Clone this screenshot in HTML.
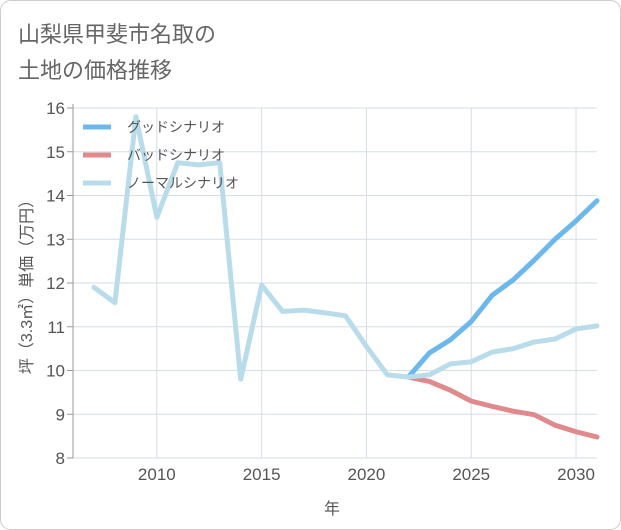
<!DOCTYPE html>
<html><head><meta charset="utf-8"><style>
body{margin:0;background:#fff}
svg{display:block;font-family:"Liberation Sans","Noto Sans CJK JP",sans-serif}
</style></head><body>
<svg width="621" height="530" viewBox="0 0 621 530" id="c">
<rect x="0.5" y="0.5" width="620" height="529" rx="10" fill="#fff" stroke="#ccc"/>
<text x="18" y="42" font-size="22" fill="#666">山梨県甲斐市名取の</text>
<text x="18" y="78" font-size="22" fill="#666">土地の価格推移</text>
<g id="grid"></g>
<g id="series"></g>
<g id="legend"></g>
<text x="332" y="514" font-size="16" fill="#555" text-anchor="middle">年</text>
<text transform="translate(32,283) rotate(-90)" font-size="16" fill="#555" text-anchor="middle">坪（3.3㎡）単価（万円）</text>
</svg>
<script>
const years=[2007,2008,2009,2010,2011,2012,2013,2014,2015,2016,2017,2018,2019,2020,2021,2022,2023,2024,2025,2026,2027,2028,2029,2030,2031];
const normal=[11.9,11.55,15.8,13.5,14.75,14.7,14.75,9.8,11.95,11.35,11.38,11.32,11.25,10.55,9.9,9.85,9.9,10.15,10.2,10.42,10.5,10.65,10.72,10.95,11.02];
const goodYears=[2022,2023,2024,2025,2026,2027,2028,2029,2030,2031];
const good=[9.85,10.4,10.7,11.12,11.72,12.07,12.52,13.0,13.42,13.88];
const bad=[9.85,9.75,9.55,9.3,9.18,9.07,8.99,8.75,8.6,8.48];
const yTicks=[8,9,10,11,12,13,14,15,16];
const xTicks=[2010,2015,2020,2025,2030];
const legendLabels=["グッドシナリオ","バッドシナリオ","ノーマルシナリオ"];
const colors=["#6cb8ec","#e08a8e","#b9dceb"];
const NS="http://www.w3.org/2000/svg";
const X0=73,X1=597,Y0=108,Y1=458;
const x=v=>X0+(v-2006)*(X1-X0)/25;
const y=v=>Y1-(v-8)*(Y1-Y0)/8;
function mk(t,a,p){const e=document.createElementNS(NS,t);for(const k in a)e.setAttribute(k,a[k]);p.appendChild(e);return e;}
const g=document.getElementById('grid');
yTicks.forEach(v=>{const l=mk('line',{x1:X0,x2:X1,y1:y(v),y2:y(v),stroke:'#d5dde6'},g);


const tk=mk('line',{x1:X0-6,x2:X0,y1:y(v),y2:y(v),stroke:'#999'},g);


const t=mk('text',{x:X0-8,y:y(v)+6,'font-size':17,fill:'#555','text-anchor':'end'},g);t.textContent=v;

});
xTicks.forEach(v=>{const l=mk('line',{x1:x(v),x2:x(v),y1:Y0,y2:Y1,stroke:'#d5dde6'},g);


const t=mk('text',{x:x(v),y:Y1+22,'font-size':17,fill:'#555','text-anchor':'middle'},g);t.textContent=v;

});
const ax=mk('line',{x1:X0,x2:X0,y1:Y0-4,y2:Y1,stroke:'#999'},g);


const s=document.getElementById('series');
function line(xs,vs,c,n){const p=mk('polyline',{points:xs.map((yr,i)=>x(yr)+','+y(vs[i])).join(' '),fill:'none',stroke:c,'stroke-width':5,'stroke-linejoin':'round','stroke-linecap':'round'},s);

}
line(goodYears,bad,colors[1],'bad-scenario-line');
line(goodYears,good,colors[0],'good-scenario-line');
line(years,normal,colors[2],'normal-scenario-line');
const lg=document.getElementById('legend');
legendLabels.forEach((lb,i)=>{const yy=127+i*28;
const l=mk('line',{x1:83,x2:111,y1:yy,y2:yy,stroke:colors[i],'stroke-width':5},lg);


const t=mk('text',{x:127,y:yy+5,'font-size':14,fill:'#555'},lg);t.textContent=lb;

});
</script>
</body></html>
